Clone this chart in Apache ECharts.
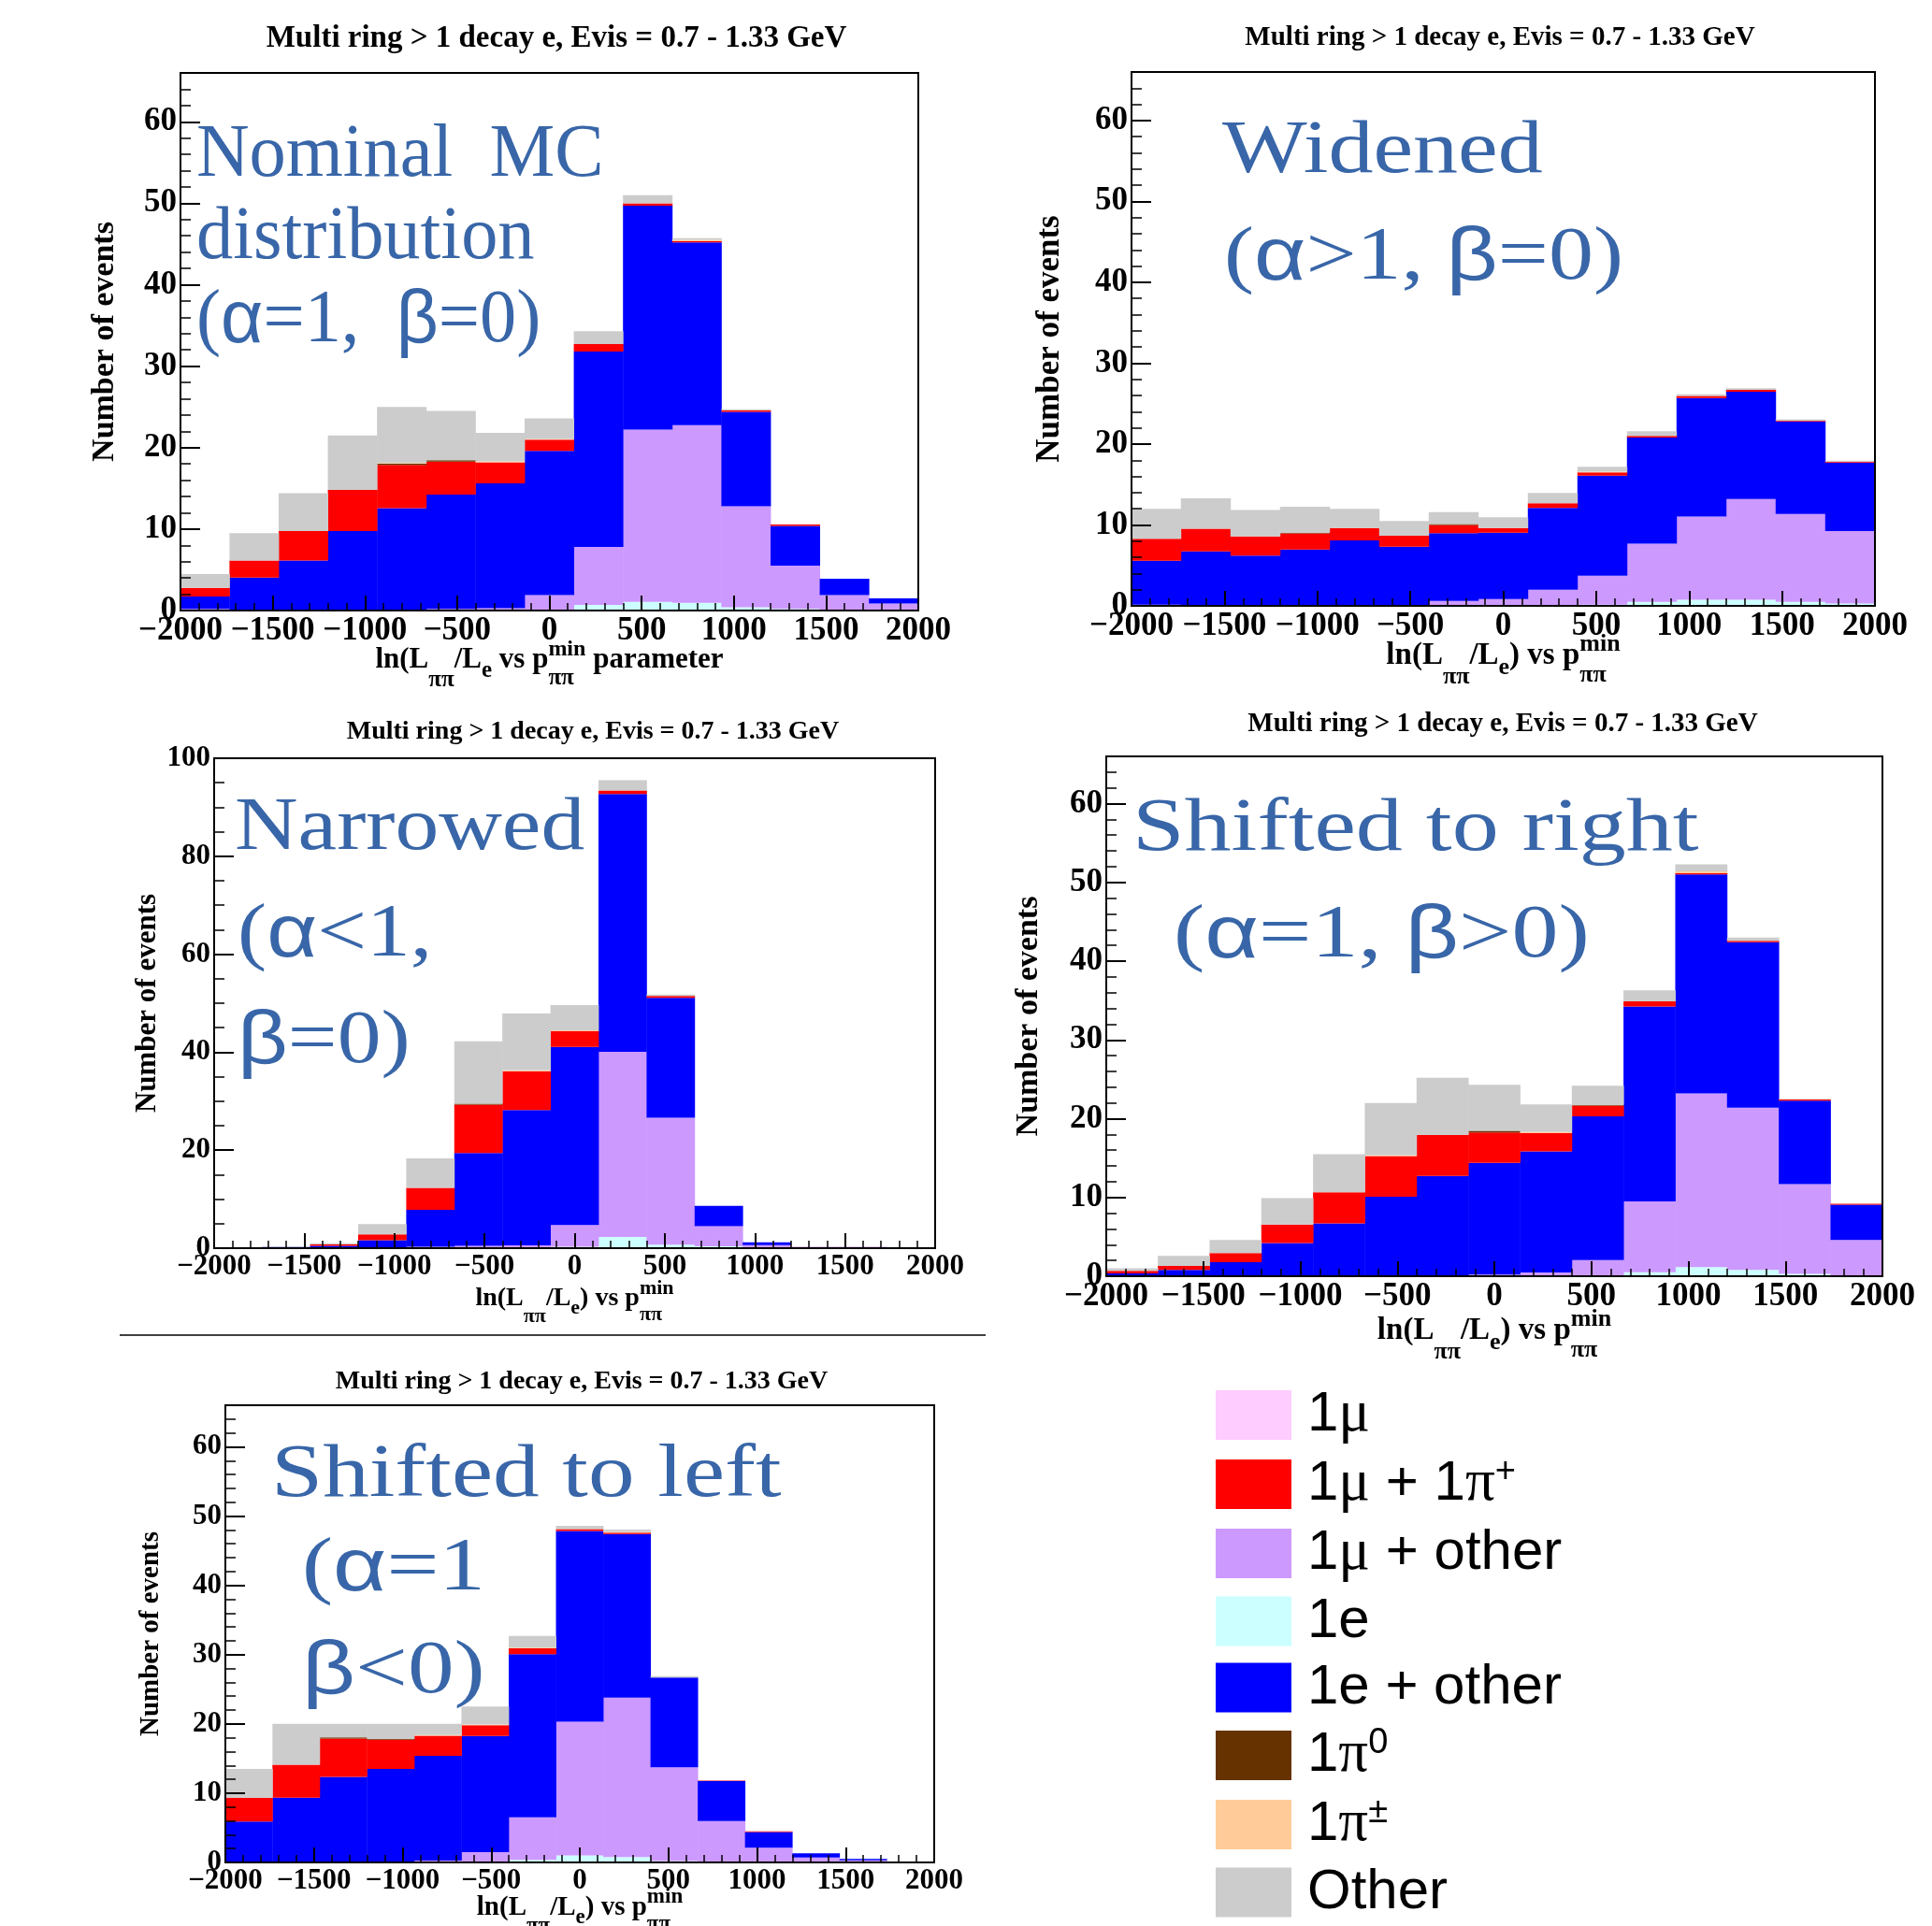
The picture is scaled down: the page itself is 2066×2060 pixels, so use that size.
<!DOCTYPE html>
<html>
<head>
<meta charset="utf-8">
<title>Multi ring &gt; 1 decay e, Evis = 0.7 - 1.33 GeV</title>
<script src="https://cdn.jsdelivr.net/npm/echarts@6/dist/echarts.min.js"></script>
<style>
  html, body { margin: 0; padding: 0; background: #fff; }
  #main { width: 2066px; height: 2060px; }
</style>
</head>
<body>
<div id="main"></div>
<script>
// 15 bins of ln(L_pipi/L_e) vs p_pipi^min, from -2000 to 2000
var binCenters = ['-1867', '-1600', '-1333', '-1067', '-800', '-533', '-267', '0',
                  '267', '533', '800', '1067', '1333', '1600', '1867'];

// each array = height of that component in the bin (stacked bottom to top)
// nominal MC
var nomMu1     = [0, 0, 0, 0, 0, 0, 0, 0, 0, 0, 0, 0, 0, 0, 0];
var nomE1      = [0, 0, 0, 0, 0, 0, 0, 0.1, 0.7, 1.05, 0.95, 0.4, 0.2, 0, 0];
var nomMuOther = [0.2, 0, 0, 0, 0.1, 0.2, 0.3, 1.8, 7.1, 21.15, 21.8, 12.4, 5.3, 1.9, 0.85];
var nomEOther  = [1.53, 4.05, 6.15, 9.77, 12.46, 14.04, 15.3, 17.7, 24.0, 27.5, 22.45, 11.6, 4.9, 2.0, 0.65];
var nomMuPi    = [1.06, 2.1, 3.62, 5.03, 5.31, 4.05, 2.6, 1.37, 0.9, 0.3, 0.15, 0.2, 0.15, 0, 0];
var nomPi0     = [0, 0, 0, 0, 0.15, 0.15, 0, 0, 0, 0, 0, 0, 0, 0, 0];
var nomPiPm    = [0, 0, 0, 0, 0.1, 0, 0.1, 0.1, 0, 0, 0.15, 0, 0, 0, 0];
var nomOther   = [1.68, 3.36, 4.63, 6.7, 6.88, 6.06, 3.5, 2.53, 1.6, 1.0, 0.2, 0.1, 0, 0, 0];

// widened
var widMu1     = [0, 0, 0, 0, 0, 0, 0, 0, 0, 0, 0, 0, 0, 0, 0];
var widE1      = [0, 0, 0, 0, 0, 0, 0, 0, 0.1, 0.15, 0.5, 0.75, 0.75, 0.5, 0.3];
var widMuOther = [0.15, 0.1, 0.1, 0.1, 0.1, 0.1, 0.6, 0.85, 1.9, 3.59, 7.2, 10.3, 12.45, 10.87, 8.96];
var widEOther  = [5.43, 6.64, 6.1, 6.85, 8.0, 7.2, 8.4, 8.2, 10.1, 12.36, 13.1, 14.65, 13.27, 11.43, 8.44];
var widMuPi    = [2.72, 2.79, 2.38, 2.0, 1.53, 1.38, 1.0, 0.58, 0.6, 0.4, 0.2, 0.25, 0.23, 0.1, 0.14];
var widPi0     = [0, 0, 0, 0.1, 0, 0, 0.1, 0, 0, 0, 0, 0, 0, 0, 0];
var widPiPm    = [0, 0, 0, 0, 0, 0, 0, 0, 0, 0.1, 0, 0, 0, 0, 0];
var widOther   = [3.7, 3.77, 3.26, 3.21, 2.37, 1.82, 1.48, 1.32, 1.25, 0.6, 0.6, 0.21, 0.2, 0.15, 0.11];

// narrowed
var narMu1     = [0, 0, 0, 0, 0, 0, 0, 0, 0, 0, 0, 0, 0, 0, 0];
var narE1      = [0, 0, 0, 0, 0, 0, 0, 0.3, 2.3, 0.7, 0.4, 0, 0, 0, 0];
var narMuOther = [0, 0, 0, 0.2, 0.3, 0.5, 0.56, 4.4, 37.8, 25.9, 4.1, 0.64, 0.3, 0.3, 0];
var narEOther  = [0, 0.25, 0.5, 1.4, 7.54, 18.94, 27.64, 36.4, 52.6, 24.5, 4.14, 0.56, 0, 0, 0];
var narMuPi    = [0, 0, 0.26, 1.2, 4.46, 9.86, 7.9, 3.2, 0.7, 0.4, 0, 0, 0, 0, 0];
var narPi0     = [0, 0, 0, 0, 0, 0.2, 0, 0, 0, 0, 0, 0, 0, 0, 0];
var narPiPm    = [0, 0, 0, 0, 0, 0, 0.2, 0.15, 0, 0, 0, 0, 0, 0, 0];
var narOther   = [0, 0, 0.24, 2.1, 6.0, 12.7, 11.6, 5.15, 2.1, 0.26, 0, 0, 0, 0, 0];

// shifted to right
var shrMu1     = [0, 0, 0, 0, 0, 0, 0, 0, 0, 0, 0, 0, 0, 0, 0];
var shrE1      = [0, 0, 0, 0, 0, 0, 0, 0, 0, 0, 0.5, 1.15, 0.8, 0.3, 0.1];
var shrMuOther = [0, 0, 0, 0, 0, 0, 0, 0.2, 0.47, 2.05, 9.0, 22.05, 20.6, 11.4, 4.5];
var shrEOther  = [0.37, 0.79, 1.78, 4.2, 6.7, 10.1, 12.74, 14.2, 15.37, 18.25, 24.74, 27.8, 21.0, 10.6, 4.47];
var shrMuPi    = [0.31, 0.52, 1.16, 2.35, 3.95, 5.16, 5.19, 3.85, 2.36, 1.36, 0.66, 0.2, 0.2, 0.14, 0.13];
var shrPi0     = [0, 0, 0, 0, 0, 0, 0, 0.2, 0, 0.1, 0, 0, 0, 0, 0];
var shrPiPm    = [0, 0, 0, 0, 0, 0.1, 0, 0, 0.1, 0, 0, 0.2, 0, 0, 0];
var shrOther   = [0.32, 1.26, 1.67, 3.35, 4.85, 6.64, 7.27, 5.85, 3.5, 2.44, 1.4, 0.9, 0.4, 0.06, 0];

// shifted to left
var shlMu1     = [0, 0, 0, 0, 0, 0, 0, 0, 0, 0, 0, 0, 0, 0, 0];
var shlE1      = [0, 0, 0, 0, 0, 0, 0.36, 1.0, 0.78, 0.2, 0, 0, 0, 0, 0];
var shlMuOther = [0, 0, 0, 0.1, 0.26, 1.5, 6.14, 19.3, 23.02, 13.55, 5.97, 2.13, 0.7, 0.3, 0.05];
var shlEOther  = [5.9, 9.34, 12.35, 13.4, 15.14, 16.77, 23.55, 27.55, 23.6, 12.95, 5.76, 2.27, 0.6, 0.2, 0.1];
var shlMuPi    = [3.44, 4.76, 5.55, 4.2, 2.9, 1.53, 0.85, 0.25, 0.2, 0, 0.07, 0.1, 0, 0, 0];
var shlPi0     = [0, 0, 0.15, 0.1, 0, 0, 0, 0, 0, 0, 0, 0, 0, 0, 0];
var shlPiPm    = [0, 0, 0, 0, 0.1, 0.1, 0.1, 0, 0.1, 0, 0, 0, 0, 0, 0];
var shlOther   = [4.16, 5.9, 1.95, 2.2, 1.6, 2.6, 1.7, 0.5, 0.35, 0.2, 0, 0, 0, 0, 0];

// stacking order (bottom first) and colours
var compNames  = ['1μ', '1e', '1μ + other', '1e + other', '1μ + 1π+', '1π0', '1π±', 'Other'];
var compColors = ['#ffccff', '#ccffff', '#cc99ff', '#0000ff', '#ff0000', '#663300', '#ffcc99', '#cccccc'];
var legendOrder = ['1μ', '1μ + 1π+', '1μ + other', '1e', '1e + other', '1π0', '1π±', 'Other'];

var titleText = 'Multi ring > 1 decay e, Evis = 0.7 - 1.33 GeV';
var noteBlue = '#3866a8';

var panels = [
  { stacks: [nomMu1, nomE1, nomMuOther, nomEOther, nomMuPi, nomPi0, nomPiPm, nomOther],
    grid: {left: 193, top: 78, width: 789, height: 575}, yMax: 66, yMajor: 10, yMinor: 2,
    tick: 35, yName: 34, yGap: 64, title: [595, 41, 33],
    xt: {base: 717, m: 31, param: true},
    noteK: 0.98, note: [['Nominal  MC', 210, 194], ['distribution', 210, 282], ['({g|α}=1,  {g|β}=0)', 210, 371]] },
  { stacks: [widMu1, widE1, widMuOther, widEOther, widMuPi, widPi0, widPiPm, widOther],
    grid: {left: 1210, top: 77, width: 795, height: 571}, yMax: 66, yMajor: 10, yMinor: 2,
    tick: 35, yName: 35, yGap: 70, title: [1604, 41, 29],
    xt: {base: 713, m: 33, param: false},
    noteK: 1.2, note: [['Widened', 1307, 190], ['({g|α}>1, {g|β}=0)', 1309, 304]] },
  { stacks: [narMu1, narE1, narMuOther, narEOther, narMuPi, narPi0, narPiPm, narOther],
    grid: {left: 229, top: 811, width: 771, height: 524}, yMax: 100, yMajor: 20, yMinor: 5,
    tick: 31, yName: 31, yGap: 56, title: [634, 783, 28],
    xt: {base: 1398, m: 28, param: false},
    noteK: 1.17, note: [['Narrowed', 251, 914], ['({g|α}<1,', 254, 1028], ['{g|β}=0)', 254, 1142]] },
  { stacks: [shrMu1, shrE1, shrMuOther, shrEOther, shrMuPi, shrPi0, shrPiPm, shrOther],
    grid: {left: 1183, top: 809, width: 830, height: 556}, yMax: 66, yMajor: 10, yMinor: 2,
    tick: 35, yName: 34, yGap: 66, title: [1607, 775, 29],
    xt: {base: 1435, m: 33, param: false},
    noteK: 1.25, note: [['Shifted to right', 1211, 915], ['({g|α}=1, {g|β}>0)', 1255, 1029]] },
  { stacks: [shlMu1, shlE1, shlMuOther, shlEOther, shlMuPi, shlPi0, shlPiPm, shlOther],
    grid: {left: 241, top: 1503, width: 758, height: 489}, yMax: 66, yMajor: 10, yMinor: 2,
    tick: 31, yName: 29, yGap: 65, title: [622, 1478, 28],
    xt: {base: 2050, m: 29, param: false},
    noteK: 1.24, note: [['Shifted to left', 290, 1606], ['({g|α}=1', 323, 1706], ['{g|β}<0)', 323, 1816]] }
];

var serif = 'Liberation Serif';
var measureCtx = document.createElement('canvas').getContext('2d');
function textWidth(t, size) {
  measureCtx.font = 'bold ' + size + 'px "' + serif + '"';
  return measureCtx.measureText(t).width;
}

function txt(t, x, base, size) {
  return {
    type: 'text', x: x, y: base - 0.34 * size, z: 100,
    style: {
      text: t, fontFamily: serif, fontWeight: 'bold', fontSize: size, fill: '#000',
      align: 'left', textAlign: 'left', verticalAlign: 'middle', textVerticalAlign: 'middle'
    }
  };
}

// x title: ln(L_pipi/L_e) vs p_pipi^min, with sub/superscripts placed by hand
function xTitle(p) {
  var m = p.xt.m, sub = Math.round(0.8 * m), sup = Math.round(0.78 * m);
  var parts = [
    {t: 'ln(L', s: m, dy: 0},
    {t: 'ππ', s: sub, dy: 0.62 * m},
    {t: '/L', s: m, dy: 0},
    {t: 'e', s: sub, dy: 0.3 * m},
    {t: p.xt.param ? ' vs p' : ') vs p', s: m, dy: 0},
    {stack: [{t: 'min', s: sup, dy: -0.45 * m}, {t: 'ππ', s: sub, dy: 0.55 * m}]}
  ];
  if (p.xt.param) parts.push({t: ' parameter', s: m, dy: 0});
  var total = 0;
  parts.forEach(function (q) {
    if (q.stack) {
      q.w = Math.max.apply(null, q.stack.map(function (r) { return textWidth(r.t, r.s); }));
    } else {
      q.w = textWidth(q.t, q.s);
    }
    total += q.w;
  });
  var cx = p.grid.left + p.grid.width / 2;
  var cur = cx - total / 2;
  var els = [];
  parts.forEach(function (q) {
    var items = q.stack || [q];
    items.forEach(function (r) { els.push(txt(r.t, cur, p.xt.base + r.dy, r.s)); });
    cur += q.w;
  });
  return els;
}

var grids = [], xAxes = [], yAxes = [], series = [], graphics = [];

function tickFmt(v) {
  return (v < 0 ? '\u2212' : '') + Math.abs(v);
}

panels.forEach(function (p, i) {
  grids.push({left: p.grid.left, top: p.grid.top, width: p.grid.width, height: p.grid.height,
              show: true, borderColor: '#000', borderWidth: 2, backgroundColor: 'transparent'});

  // hidden category axis carries the bins
  xAxes.push({type: 'category', gridIndex: i, data: binCenters, show: false, position: 'bottom', boundaryGap: true});
  // visible value axis gives ROOT style ticks
  xAxes.push({
    type: 'value', gridIndex: i, position: 'bottom', min: -2000, max: 2000, interval: 500, z: 10,
    axisLine: {show: true, onZero: false, lineStyle: {color: '#000', width: 2}},
    axisTick: {show: true, inside: true, length: 16, lineStyle: {color: '#000', width: 2}},
    minorTick: {show: true, splitNumber: 5, length: 8, lineStyle: {color: '#000', width: 1.5}},
    splitLine: {show: false},
    axisLabel: {margin: 4, fontFamily: serif, fontWeight: 'bold', fontSize: p.tick, color: '#000', formatter: tickFmt}
  });

  yAxes.push({
    type: 'value', gridIndex: i, position: 'left', min: 0, max: p.yMax, interval: p.yMajor, z: 10,
    name: 'Number of events', nameLocation: 'middle', nameGap: p.yGap, nameRotate: 90,
    nameTextStyle: {fontFamily: serif, fontWeight: 'bold', fontSize: p.yName, color: '#000'},
    axisLine: {show: true, onZero: false, lineStyle: {color: '#000', width: 2}},
    axisTick: {show: true, inside: true, length: 21, lineStyle: {color: '#000', width: 2}},
    splitLine: {show: false},
    axisLabel: {margin: 4, fontFamily: serif, fontWeight: 'bold', fontSize: p.tick, color: '#000',
                formatter: function (v) { return v % p.yMajor === 0 ? String(v) : ''; }}
  });
  yAxes.push({
    type: 'value', gridIndex: i, position: 'left', min: 0, max: p.yMax, interval: p.yMinor, z: 10,
    axisLine: {show: false, onZero: false}, axisLabel: {show: false}, splitLine: {show: false},
    axisTick: {show: true, inside: true, length: 11, lineStyle: {color: '#000', width: 1.5}}
  });
  yAxes.push({
    type: 'value', gridIndex: i, position: 'right', min: 0, max: p.yMax, z: 10,
    axisLine: {show: true, onZero: false, lineStyle: {color: '#000', width: 2}},
    axisTick: {show: false}, axisLabel: {show: false}, splitLine: {show: false}
  });

  compNames.forEach(function (name, k) {
    series.push({
      type: 'bar', name: name, xAxisIndex: 2 * i, yAxisIndex: 3 * i, stack: 'p' + i,
      barWidth: '100.8%', data: p.stacks[k],
      itemStyle: {color: compColors[k], borderWidth: 0},
      emphasis: {disabled: true}, silent: true
    });
  });

  graphics.push({
    type: 'text', x: p.title[0], y: p.title[1], z: 100,
    style: {text: titleText, fontFamily: serif, fontWeight: 'bold', fontSize: p.title[2], fill: '#000',
            align: 'center', textAlign: 'center', verticalAlign: 'middle', textVerticalAlign: 'middle'}
  });

  graphics = graphics.concat(xTitle(p));

  p.note.forEach(function (ln) {
    graphics.push({
      type: 'text', x: ln[1], y: ln[2] - 0.34 * 80, scaleX: p.noteK, z: 100,
      style: {text: ln[0], fontFamily: serif, fontSize: 80, fill: noteBlue,
              align: 'left', textAlign: 'left', verticalAlign: 'middle', textVerticalAlign: 'middle',
              rich: {g: {fontFamily: 'Liberation Sans', fontSize: 80, fill: noteBlue}}}
    });
  });
});

// divider between narrowed and shifted-left panels
graphics.push({type: 'line', z: 100, shape: {x1: 128, y1: 1428, x2: 1054, y2: 1428},
               style: {stroke: '#000', lineWidth: 1.5}});

var legendText = {
  '1μ': '1{g|μ}',
  '1μ + 1π+': '1{g|μ} + 1{g|π}{sup|+}',
  '1μ + other': '1{g|μ} + other',
  '1e': '1e',
  '1e + other': '1e + other',
  '1π0': '1{g|π}{sup|0}',
  '1π±': '1{g|π}{sup|±}',
  'Other': 'Other'
};

var chart = echarts.init(document.getElementById('main'));
chart.setOption({
  animation: false,
  backgroundColor: '#fff',
  grid: grids,
  xAxis: xAxes,
  yAxis: yAxes,
  series: series,
  graphic: {elements: graphics},
  legend: {
    data: legendOrder, orient: 'vertical', left: 1300, top: 1482, padding: 0,
    icon: 'rect', itemWidth: 81, itemHeight: 53, itemGap: 11, selectedMode: false,
    formatter: function (name) { return legendText[name]; },
    textStyle: {
      fontFamily: 'Liberation Sans', fontSize: 60, color: '#000', padding: [0, 0, 0, 12],
      rich: {
        g: {fontFamily: serif, fontSize: 63, color: '#000'},
        sup: {fontFamily: 'Liberation Sans', fontSize: 38, color: '#000', verticalAlign: 'top'}
      }
    }
  }
});
</script>
</body>
</html>
